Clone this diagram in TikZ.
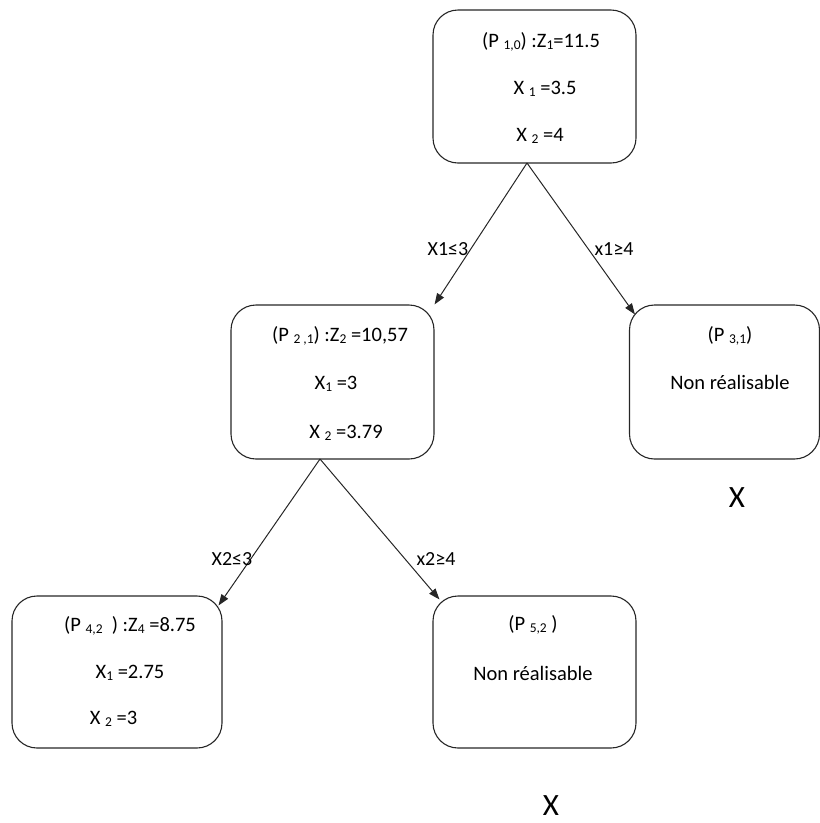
\documentclass[tikz,border=0pt]{standalone}
\usepackage{fontspec}
\setmainfont{Carlito}
\usetikzlibrary{arrows.meta}
\newcommand\sbs[1]{\raisebox{-1.5pt}{\fontsize{13.5}{13.5}\selectfont #1}}
\begin{document}
\begin{tikzpicture}[x=1pt,y=-1pt,
  box/.style={draw=black!85,line width=1.1pt,rounded corners=25pt,inner sep=0pt},
  txt/.style={inner sep=0pt,font=\fontsize{20.5}{20.5}\selectfont},
  lbl/.style={inner sep=0pt,font=\fontsize{20}{20}\selectfont},
  bigx/.style={inner sep=0pt,font=\fontsize{31}{31}\selectfont},
  arr/.style={draw=black!85,line width=1pt,-{Triangle[length=11pt,width=8pt]}}]
\useasboundingbox (0,0) rectangle (820,823);
% boxes
\node[box,minimum width=203pt,minimum height=153pt] (b1) at (534.5,86.5) {};
\node[box,minimum width=203pt,minimum height=154pt] (b2) at (332.5,382) {};
\node[box,minimum width=190pt,minimum height=154pt] (b3) at (724.5,382) {};
\node[box,minimum width=210pt,minimum height=152pt] (b4) at (117,672) {};
\node[box,minimum width=203pt,minimum height=152pt] (b5) at (534.5,672) {};
% texts
\node[txt] (t11) at (541,42) {(P \sbs{1,0}) :Z\sbs{1}=11.5};
\node[txt] (t12) at (545,89) {X \sbs{1} =3.5};
\node[txt] (t13) at (540,136) {X \sbs{2} =4};
\node[txt] (t21) at (340,336) {(P \sbs{2 ,1}) :Z\sbs{2} =10,57};
\node[txt] (t22) at (336,384) {X\sbs{1} =3};
\node[txt] (t23) at (346,433) {X \sbs{2} =3.79};
\node[txt] (t31) at (730,336) {(P \sbs{3,1})};
\node[txt] (t32) at (730,382) {Non réalisable};
\node[txt] (t41) at (130,626) {(P \sbs{4,2}\ \ ) :Z\sbs{4} =8.75};
\node[txt] (t42) at (130,673) {X\sbs{1} =2.75};
\node[txt] (t43) at (113.5,719) {X \sbs{2} =3};
\node[txt] (t51) at (533,625) {(P \sbs{5,2} )};
\node[txt] (t52) at (533,673) {Non réalisable};
% connectors
\coordinate (o1) at (527,163);
\coordinate (o2) at (320,459);
\draw[arr] (o1) -- (b2.north east);
\draw[arr] (o1) -- ([xshift=6pt,yshift=-10pt]b3.north west);
\draw[arr] (o2) -- ([xshift=-4pt,yshift=-10pt]b4.north east);
\draw[arr] (o2) -- ([xshift=7pt,yshift=-4pt]b5.north west);
% labels
\node[lbl] (l1) at (448,249) {X1≤3};
\node[lbl] (l2) at (614,249) {x1≥4};
\node[lbl] (l3) at (232,559) {X2≤3};
\node[lbl] (l4) at (436,559) {x2≥4};
\node[bigx] (x1) at (737,498) {X};
\node[bigx] (x2) at (551,806) {X};
\end{tikzpicture}
\end{document}
